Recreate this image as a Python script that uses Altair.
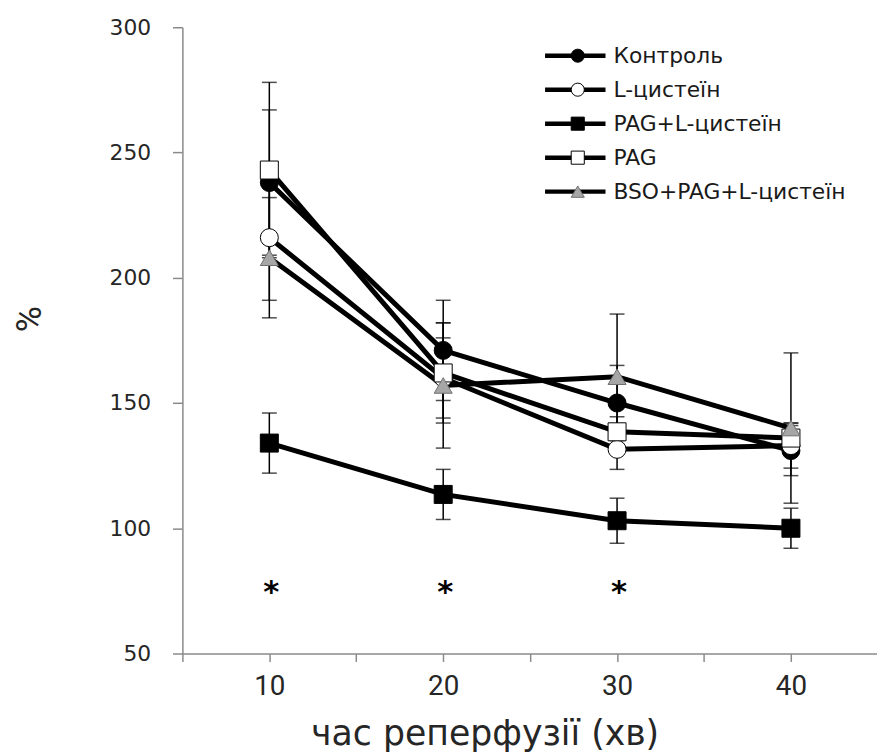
import altair as alt
import pandas as pd

# ---- data ----
x_vals = [10, 20, 30, 40]
series_names = ["Контроль", "L-цистеїн", "PAG+L-цистеїн", "PAG", "BSO+PAG+L-цистеїн"]

control = [238, 171, 150, 131]
control_err = [29, 20, 15, 10]
lcys = [216, 160, 131.5, 133]
lcys_err = [25, 16, 8, 9]
pag_lcys = [134, 113.5, 103, 100]
pag_lcys_err = [12, 10, 9, 8]
pag = [243, 162, 138.5, 136]
pag_err = [35, 20, 6, 6]
bso = [208, 157, 160.5, 140]
bso_err = [24, 25, 25, 30]

star_x = [10, 20, 30]
star_level = 77

x_ticks = [5, 10, 15, 20, 25, 30, 35, 40]
y_ticks = [50, 100, 150, 200, 250, 300]

values = [control, lcys, pag_lcys, pag, bso]
errors = [control_err, lcys_err, pag_lcys_err, pag_err, bso_err]

rows = []
for si, (name, vals, errs) in enumerate(zip(series_names, values, errors)):
    for x, v, e in zip(x_vals, vals, errs):
        rows.append({"series": name, "order": si, "x": x, "y": v, "lo": v - e, "hi": v + e})
df = pd.DataFrame(rows)

stars_df = pd.DataFrame({"x": star_x, "y": [star_level] * len(star_x)})

# legend rows (layout only)
leg_top, leg_step = 28.7, 34.3
leg_df = pd.DataFrame({"series": series_names,
                       "ly": [leg_top + i * leg_step for i in range(len(series_names))]})

# ---- styles ----
shape_scale = alt.Scale(domain=series_names, range=["circle", "circle", "square", "square", "triangle-up"])
fill_scale = alt.Scale(domain=series_names, range=["#000000", "#ffffff", "#000000", "#ffffff", "#a6a6a6"])
stroke_scale = alt.Scale(domain=series_names, range=["#000000", "#000000", "#000000", "#000000", "#6e6e6e"])
size_scale = alt.Scale(domain=series_names, range=[330, 330, 330, 330, 430])

axis_gray = "#8a8a8a"
label_color = "#262626"

x_enc = alt.X("x:Q",
              scale=alt.Scale(domain=[5, 44.95], nice=False, zero=False),
              axis=alt.Axis(values=x_ticks, grid=False,
                            labelExpr="datum.value % 10 == 0 ? datum.label : ''",
                            title="час реперфузії (хв)",
                            domainColor=axis_gray, domainWidth=1.5,
                            tickColor=axis_gray, tickWidth=1.5, tickSize=8,
                            labelFont="Roboto", labelFontSize=28, labelColor=label_color,
                            labelPadding=11, labelFlush=False,
                            titleFont="DejaVu Sans", titleFontSize=35, titleFontWeight="normal",
                            titleColor=label_color, titleX=305, titleY=92,
                            titleAlign="center", titleBaseline="alphabetic"))
y_enc = alt.Y("y:Q",
              scale=alt.Scale(domain=[50, 300], nice=False, zero=False),
              axis=alt.Axis(values=y_ticks, grid=False, title="%",
                            domainColor=axis_gray, domainWidth=1.5,
                            tickColor=axis_gray, tickWidth=1.5, tickSize=10,
                            labelFont="DejaVu Sans", labelFontSize=22, labelColor=label_color,
                            labelPadding=22,
                            titleFont="Roboto", titleFontSize=36, titleFontWeight="normal",
                            titleColor=label_color, titleAngle=270, titleX=-154, titleY=294,
                            titleAlign="center", titleBaseline="middle"))

base = alt.Chart(df)

err_rules = base.mark_rule(color="black", strokeWidth=1.5).encode(
    x=x_enc, y=alt.Y("lo:Q"), y2="hi:Q")
caps_lo = base.mark_tick(color="black", orient="horizontal", size=15, thickness=1.5).encode(
    x="x:Q", y="lo:Q")
caps_hi = base.mark_tick(color="black", orient="horizontal", size=15, thickness=1.5).encode(
    x="x:Q", y="hi:Q")

lines = base.mark_line(color="black", strokeWidth=5).encode(
    x="x:Q", y=y_enc, detail="series:N", order="x:Q")

points = base.mark_point(filled=True, opacity=1, strokeWidth=1).encode(
    x="x:Q", y="y:Q",
    shape=alt.Shape("series:N", scale=shape_scale, legend=None),
    fill=alt.Fill("series:N", scale=fill_scale, legend=None),
    stroke=alt.Stroke("series:N", scale=stroke_scale, legend=None),
    size=alt.Size("series:N", scale=size_scale, legend=None),
    order="order:Q")

stars = alt.Chart(stars_df).mark_text(text="*", font="DejaVu Sans", fontSize=31, fontWeight="bold",
                                      color="black", baseline="middle", dy=7, dx=2).encode(
    x="x:Q", y="y:Q")

# manual legend (line + marker + label)
leg_lines = alt.Chart(leg_df).mark_rule(color="black", strokeWidth=4.5).encode(
    x=alt.value(366), x2=alt.value(427), y=alt.Y("ly:Q", scale=None, axis=None))
leg_points = alt.Chart(leg_df).mark_point(filled=True, opacity=1, strokeWidth=1, size=175).encode(
    x=alt.value(399), y=alt.Y("ly:Q", scale=None, axis=None),
    shape=alt.Shape("series:N", scale=shape_scale, legend=None),
    fill=alt.Fill("series:N", scale=fill_scale, legend=None),
    stroke=alt.Stroke("series:N", scale=stroke_scale, legend=None))
leg_text = alt.Chart(leg_df).mark_text(align="left", baseline="middle", font="DejaVu Sans",
                                       fontSize=22, color="#1a1a1a").encode(
    x=alt.value(435), y=alt.Y("ly:Q", scale=None, axis=None), text="series:N")

chart = alt.layer(err_rules, caps_lo, caps_hi, lines, points, stars,
                  leg_lines, leg_points, leg_text).properties(
    width=701, height=632,
    autosize=alt.AutoSizeParams(type="none"),
    padding={"left": 176, "top": 16, "right": 0, "bottom": 98},
    background="white",
).configure_view(stroke=None)

chart.save("out.html", embed_options={"renderer": "svg", "actions": False})
